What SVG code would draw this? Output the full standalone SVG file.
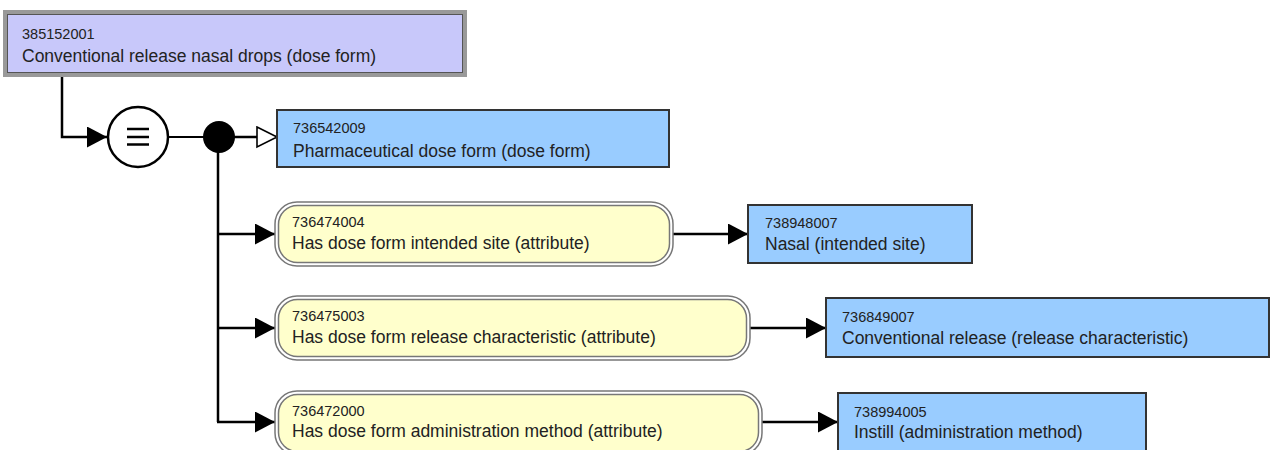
<svg xmlns="http://www.w3.org/2000/svg" width="1272" height="450" viewBox="0 0 1272 450">
<style>
  .id { font-family: "Liberation Sans", Arial, sans-serif; font-size: 14.5px; fill: #222; }
  .lbl { font-family: "Liberation Sans", Arial, sans-serif; font-size: 17.5px; fill: #222; }
  .blue { fill: #99ccff; stroke: #333; stroke-width: 2; }
  .yo { fill: #fff; stroke: #777; stroke-width: 1.5; }
  .yi { fill: #ffffcc; stroke: #777; stroke-width: 1.5; }
  .conn { fill: none; stroke: #000; stroke-width: 2.5; }
</style>
<defs>
  <marker id="arr" markerUnits="userSpaceOnUse" markerWidth="22" markerHeight="22" refX="20" refY="10.5" orient="auto">
    <path d="M0,0 L20,10.5 L0,21 z" fill="#000"/>
  </marker>
  <marker id="open" markerUnits="userSpaceOnUse" markerWidth="24" markerHeight="24" refX="21" refY="11" orient="auto">
    <path d="M1,1 L21,11 L1,21 z" fill="#fff" stroke="#000" stroke-width="1.6"/>
  </marker>
</defs>
<rect width="1272" height="450" fill="#fff"/>

<g id="connectors">
  <path class="conn" d="M62,75 V137 H107" marker-end="url(#arr)"/>
  <path d="M169,137 H205" stroke="#000" stroke-width="2" fill="none"/>
  <path class="conn" d="M234,137 H277" marker-end="url(#open)"/>
  <path class="conn" d="M218,150 V422"/>
  <path class="conn" d="M217,234 H275" marker-end="url(#arr)"/>
  <path class="conn" d="M217,328 H275" marker-end="url(#arr)"/>
  <path class="conn" d="M217,422 H275" marker-end="url(#arr)"/>
  <path class="conn" d="M673,234 H748" marker-end="url(#arr)"/>
  <path class="conn" d="M750,328 H826" marker-end="url(#arr)"/>
  <path class="conn" d="M762,422 H838" marker-end="url(#arr)"/>
</g>

<g id="n385152001">
  <rect x="5" y="12" width="460" height="63" fill="#c8c8fa" stroke="#999" stroke-width="4"/>
  <rect x="7.5" y="14.5" width="455" height="58" fill="none" stroke="#555" stroke-width="1"/>
  <text class="id" x="22" y="39">385152001</text>
  <text class="lbl" x="22" y="62">Conventional release nasal drops (dose form)</text>
</g>

<g id="equiv">
  <circle cx="138" cy="137" r="30" fill="#fff" stroke="#000" stroke-width="2.5"/>
  <path d="M127,129 H149 M127,137 H149 M127,144.5 H149" stroke="#000" stroke-width="2.6"/>
</g>

<g id="conj">
  <circle cx="219" cy="137" r="16" fill="#000"/>
</g>

<g id="n736542009">
  <rect class="blue" x="277" y="110" width="392" height="57"/>
  <text class="id" x="293" y="133">736542009</text>
  <text class="lbl" x="293" y="157">Pharmaceutical dose form (dose form)</text>
</g>

<g id="n736474004">
  <rect class="yo" x="275" y="202" width="398" height="64" rx="22"/>
  <rect class="yi" x="278.5" y="205.5" width="391" height="57" rx="19"/>
  <text class="id" x="292" y="227">736474004</text>
  <text class="lbl" x="292" y="249">Has dose form intended site (attribute)</text>
</g>

<g id="n738948007">
  <rect class="blue" x="748" y="205" width="224" height="58"/>
  <text class="id" x="765" y="228">738948007</text>
  <text class="lbl" x="765" y="250">Nasal (intended site)</text>
</g>

<g id="n736475003">
  <rect class="yo" x="275" y="296" width="475" height="64" rx="22"/>
  <rect class="yi" x="278.5" y="299.5" width="468" height="57" rx="19"/>
  <text class="id" x="292" y="321">736475003</text>
  <text class="lbl" x="292" y="343">Has dose form release characteristic (attribute)</text>
</g>

<g id="n736849007">
  <rect class="blue" x="826" y="298" width="443" height="59"/>
  <text class="id" x="842" y="322">736849007</text>
  <text class="lbl" x="842" y="344">Conventional release (release characteristic)</text>
</g>

<g id="n736472000">
  <rect class="yo" x="275" y="391" width="487" height="64" rx="22"/>
  <rect class="yi" x="278.5" y="394.5" width="480" height="57" rx="19"/>
  <text class="id" x="292" y="416">736472000</text>
  <text class="lbl" x="292" y="437">Has dose form administration method (attribute)</text>
</g>

<g id="n738994005">
  <rect class="blue" x="838" y="393" width="308" height="59"/>
  <text class="id" x="854" y="417">738994005</text>
  <text class="lbl" x="854" y="438">Instill (administration method)</text>
</g>
</svg>
